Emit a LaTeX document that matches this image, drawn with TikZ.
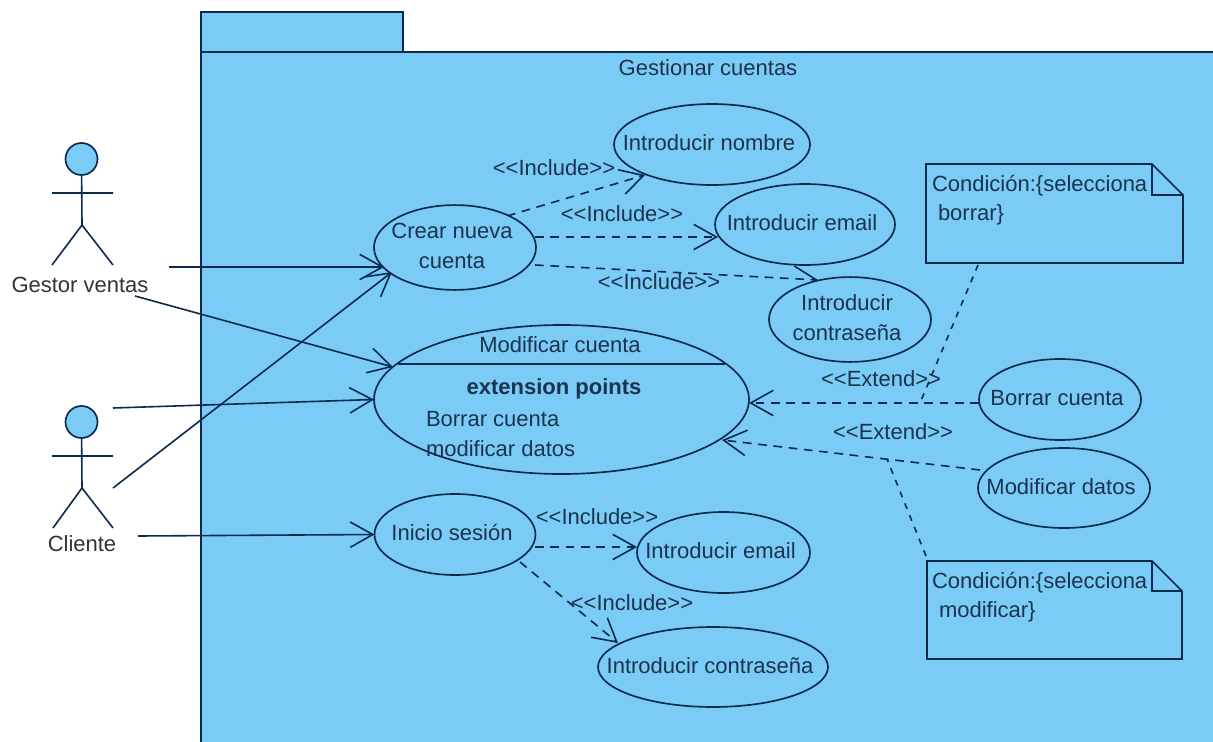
\documentclass[tikz,border=0pt]{standalone}
\usepackage{fontspec}
\setmainfont{Liberation Sans}
\usetikzlibrary{arrows.meta,shapes.geometric,calc}
\definecolor{pkgblue}{HTML}{7ACBF5}
\definecolor{ink}{HTML}{0C2A4E}
\definecolor{txt}{HTML}{1C3350}
\definecolor{txtw}{HTML}{333333}
\pgfdeclarelayer{pkg}
\pgfdeclarelayer{edges}
\pgfsetlayers{pkg,edges,main}
\newcommand{\uctxt}[1]{\makebox[0pt]{\kern-4.5pt\raisebox{-0.75pt}{\begin{tabular}{@{}c@{}}#1\end{tabular}}}}
\tikzset{
  every node/.style={font=\fontsize{16.5}{22.5}\selectfont, text=txt, inner sep=0pt, outer sep=0pt},
  uc/.style 2 args={ellipse, draw=ink, fill=pkgblue, line width=1.25pt,
     minimum width=#1*0.75pt, minimum height=#2*0.75pt},
  assoc/.style={draw=ink, line width=1.2pt, -{Straight Barb[length=17pt,width=19pt,line width=1.2pt]}},
  dep/.style={assoc, dash pattern=on 6.5pt off 5pt},
  anchorline/.style={draw=ink, line width=1.2pt, dash pattern=on 4.5pt off 5pt},
  actorline/.style={draw=ink, line width=1.2pt},
  notebox/.style={draw=ink, fill=pkgblue, line width=1.3pt, line join=miter},
  notetext/.style={anchor=west},
  lbl/.style={anchor=center},
  head/.style={circle, draw=ink, fill=pkgblue, line width=1.25pt, minimum size=32*0.75pt},
  actorlbl/.style={anchor=center, text=txtw}
}
\begin{document}
\begin{tikzpicture}[x=0.75pt,y=-0.75pt]
\useasboundingbox (0,0) rectangle (1213,742);

\begin{pgfonlayer}{pkg}
  \fill[white] (0,0) rectangle (1213,742);
  \fill[pkgblue] (201,12) -- (403,12) -- (403,52) -- (1213,52) -- (1213,742) -- (201,742) -- cycle;
  \draw[ink, line width=1.3pt, line join=miter] (201,742) -- (201,12) -- (403,12) -- (403,52) -- (1213,52);
  \draw[ink, line width=1.3pt] (201,52) -- (403,52);
\end{pgfonlayer}

\node[lbl] (title) at (708,68) {Gestionar cuentas};

% use cases
\node[uc={196}{81}] (nombre) at (712,144.5) {\uctxt{Introducir nombre}};
\node[uc={162}{80}] (crear) at (455,247.5) {\uctxt{Crear nueva\\cuenta}};
\node[uc={180}{81}] (email) at (805,224.5) {\uctxt{Introducir email}};
\node[uc={162}{81}] (contra) at (850,319.5) {\uctxt{Introducir\\contraseña}};
\node[uc={375}{149}] (modif) at (561.5,399.5) {};
\node[uc={162}{81}] (borrar) at (1060,399.5) {\uctxt{Borrar cuenta}};
\node[uc={172}{80}] (mdatos) at (1064,488) {\uctxt{Modificar datos}};
\node[uc={161}{81}] (inicio) at (455,534.5) {\uctxt{Inicio sesión}};
\node[uc={173}{81}] (email2) at (723.5,552.5) {\uctxt{Introducir email}};
\node[uc={230}{80}] (contra2) at (713,667) {\uctxt{Introducir contraseña}};

% Modificar cuenta compartments
\draw[draw=ink, line width=1.5pt] ($(modif.center)+(-163.5,-36)$) -- ($(modif.center)+(163.5,-36)$);
\node[lbl] (modtitle) at (560,345) {Modificar cuenta};
\node[lbl, font=\fontsize{16.5}{22.5}\selectfont\bfseries] (extp) at (554,389) {extension points};
\node[anchor=west] (ep1) at (426,419) {Borrar cuenta};
\node[anchor=west] (ep2) at (426,449) {modificar datos};

% actors
\node[head] (h1) at (81.5,159) {};
\coordinate (hip1) at (82,225);
\coordinate (al1) at (52,193);
\coordinate (ar1) at (113,193);
\coordinate (ll1) at (52,265);
\coordinate (lr1) at (113,265);
\draw[actorline] (h1) -- (hip1) (al1) -- (ar1) (ll1) -- (hip1) -- (lr1);
\node[actorlbl] (gestor) at (80,285) {Gestor ventas};

\node[head] (h2) at (81.5,422) {};
\coordinate (hip2) at (82,488);
\coordinate (al2) at (52,456);
\coordinate (ar2) at (113,456);
\coordinate (ll2) at (53,528);
\coordinate (lr2) at (113,528);
\draw[actorline] (h2) -- (hip2) (al2) -- (ar2) (ll2) -- (hip2) -- (lr2);
\node[actorlbl] (cliente) at (82,544) {Cliente};

% free ends of the actor associations
\coordinate (g1) at (169,267);
\coordinate (g2) at (135,296);
\coordinate (c1) at (113,408);
\coordinate (c2) at (113,488);
\coordinate (c3) at (138,536);

% notes
\node[minimum width=257*0.75pt, minimum height=99*0.75pt] (note1) at (1054.5,213.5) {};
\draw[notebox] (note1.south west) -- (note1.north west) -- ($(note1.north east)+(-31,0)$)
   -- ($(note1.north east)+(0,31)$) -- (note1.south east) -- cycle;
\draw[notebox, fill=none] ($(note1.north east)+(-31,0)$) -- ($(note1.north east)+(-31,31)$) -- ($(note1.north east)+(0,31)$);
\node[notetext] (n1a) at (932,186) {Condición:\{selecciona};
\node[notetext] (n1b) at (938,215) {borrar\}};

\node[minimum width=255*0.75pt, minimum height=98*0.75pt] (note2) at (1054.5,610) {};
\draw[notebox] (note2.south west) -- (note2.north west) -- ($(note2.north east)+(-30,0)$)
   -- ($(note2.north east)+(0,30)$) -- (note2.south east) -- cycle;
\draw[notebox, fill=none] ($(note2.north east)+(-30,0)$) -- ($(note2.north east)+(-30,30)$) -- ($(note2.north east)+(0,30)$);
\node[notetext] (n2a) at (932,583) {Condición:\{selecciona};
\node[notetext] (n2b) at (939,612) {modificar\}};

\coordinate (j1) at (920,403);
\coordinate (j2) at (887,459);
\coordinate (n1end) at ($(note1.south west)+(52,2)$);
\coordinate (n2end) at ($(note2.north west)+(-1,-5)$);

\begin{pgfonlayer}{edges}
  \draw[assoc] (g1) -- ($(crear)+(-71,19.5)$);
  \draw[assoc] (g2) -- ($(modif)+(-168.5,-32.5)$);
  \draw[assoc] (c1) -- (modif.west);
  \draw[assoc] (c2) -- ($(crear)+(-63,24.5)$);
  \draw[assoc] (c3) -- (inicio.west);
  \draw[dep] ($(crear)+(52,-31.5)$) -- ($(nombre)+(-67,30.5)$);
  \draw[dep] ($(crear)+(80,-10.5)$) -- ($(email)+(-87,12.5)$);
  \draw[dep] ($(crear)+(80,17.5)$) -- ($(contra)+(-32,-39.5)$);
  \draw[dep] ($(inicio)+(80,12.5)$) -- ($(email2)+(-86.5,-5.5)$);
  \draw[dep] ($(inicio)+(65,27.5)$) -- ($(contra2)+(-95,-24)$);
  \draw[dep] ($(borrar)+(-81,3.5)$) -- ($(modif)+(187.5,3.5)$);
  \draw[dep] ($(mdatos)+(-84,-18)$) -- ($(modif)+(160.5,40.5)$);
  \draw[anchorline] (n1end) -- (j1);
  \draw[anchorline] (n2end) -- (j2);
\end{pgfonlayer}

% connector labels
\node[lbl] (i1) at (554,168) {<{}<Include>{}>};
\node[lbl] (i2) at (622,214) {<{}<Include>{}>};
\node[lbl] (i3) at (659,282) {<{}<Include>{}>};
\node[lbl] (i4) at (597,517) {<{}<Include>{}>};
\node[lbl] (i5) at (632,603) {<{}<Include>{}>};
\node[lbl] (e1) at (881,379) {<{}<Extend>{}>};
\node[lbl] (e2) at (893,432) {<{}<Extend>{}>};
\end{tikzpicture}
\end{document}
